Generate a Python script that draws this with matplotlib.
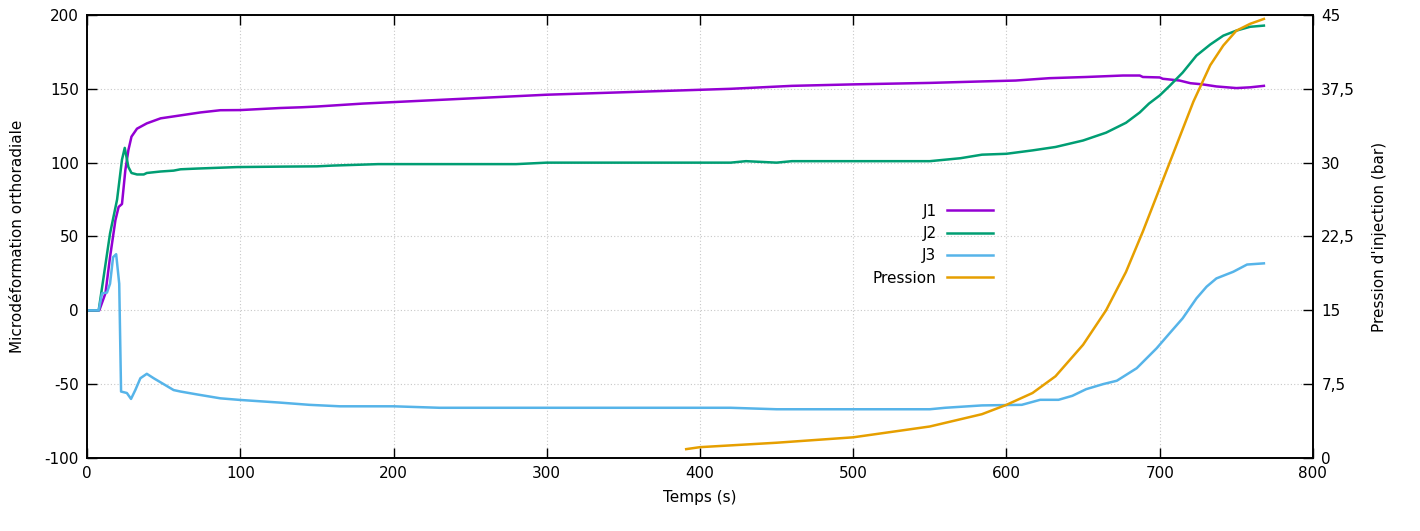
import matplotlib
matplotlib.use('Agg')
import matplotlib.pyplot as plt
from matplotlib.ticker import FixedLocator

# ---- data (time in s) ----
t_j1 = [0, 8, 12, 15, 18.5, 20.6, 22.8, 25, 27, 29, 32.6, 39, 48, 61, 74, 87, 100, 126,
        140, 150, 165, 180, 200, 220, 240, 260, 280, 300, 330, 360, 390, 420, 440, 460,
        500, 550, 584, 606, 628, 652, 676, 687, 689, 700, 702, 713, 720, 728, 737, 750, 759, 768]
j1 = [0, 0, 11.5, 36, 61, 70, 72, 95, 108.6, 117.6, 123, 126.6, 130, 132, 134, 135.5, 135.6, 137,
      137.5, 138, 139, 140, 141, 142, 143, 144, 145, 146, 147, 148, 149, 150, 151, 152,
      153, 154, 155, 155.6, 157.2, 158, 159, 159, 158, 157.7, 156.8, 155.6, 153.8, 153, 151.6, 150.5, 151, 152]

t_j2 = [0, 7.6, 15, 19.6, 22.8, 24.6, 27, 29, 32.6, 37, 39, 48, 56.5, 61, 72, 98, 126, 150,
        160, 190, 280, 300, 420, 430, 450, 460, 550, 560, 570, 584, 600, 617, 632, 650, 665,
        678, 687, 693, 700, 706.5, 715, 724, 733, 741.5, 750, 759, 768]
j2 = [0, 0, 52, 75, 102, 110, 97, 93, 92, 92, 93, 94, 94.6, 95.5, 96, 97, 97.3, 97.5,
      98, 99, 99, 100, 100, 101, 100, 101, 101, 102, 103, 105.4, 106, 108.3, 110.6, 115, 120.3,
      127, 134, 140, 145.5, 152, 161, 172.5, 180, 186, 189.4, 192, 192.8]

t_j3 = [0, 7.6, 9.8, 13, 15, 17, 19, 21, 22.2, 26, 28.7, 31.5, 34.8, 39, 43.5, 56.5, 61, 72,
        87, 100, 126, 145, 165, 200, 230, 420, 450, 550, 560, 584, 610, 622, 634, 643, 652,
        663, 672, 685, 698, 706.5, 715, 724, 730.6, 737, 748, 757, 768]
j3 = [0, 0, 11.5, 12, 18, 36, 38, 18, -55, -56, -60, -54, -46, -43, -46, -54, -55, -57,
      -59.6, -60.7, -62.5, -64, -65, -65, -66, -66, -67, -67, -66, -64.4, -64, -60.6, -60.6, -57.9, -53.4,
      -50, -47.7, -39.2, -25.7, -15.5, -5.4, 8.1, 16, 21.6, 26.1, 31, 31.8]

t_p = [391, 400, 450, 500, 550, 584, 600, 617, 632, 650, 665, 678, 689, 700, 711, 722,
       733, 741.5, 750, 759, 768]
pression = [0.9, 1.1, 1.55, 2.1, 3.2, 4.45, 5.4, 6.6, 8.3, 11.5, 15.0, 18.9, 23.0, 27.4, 31.8, 36.2,
            39.9, 41.9, 43.4, 44.1, 44.6]

y2_ticks = [0, 7.5, 15, 22.5, 30, 37.5, 45]
y2_labels = ['0', '7,5', '15', '22,5', '30', '37,5', '45']

C_J1 = '#9400d3'
C_J2 = '#009e73'
C_J3 = '#56b4e9'
C_P = '#e69f00'

plt.rcParams['font.family'] = ['DejaVu Sans']
plt.rcParams['font.size'] = 11
plt.rcParams['axes.unicode_minus'] = False

fig = plt.figure(figsize=(14.2, 5.31), dpi=100)
ax = fig.add_axes([0.0613, 0.1375, 0.8633, 0.8343])
ax2 = ax.twinx()

lw = 1.8
l1, = ax.plot(t_j1, j1, color=C_J1, lw=lw, label='J1')
l2, = ax.plot(t_j2, j2, color=C_J2, lw=lw, label='J2')
l3, = ax.plot(t_j3, j3, color=C_J3, lw=lw, label='J3')
l4, = ax2.plot(t_p, pression, color=C_P, lw=lw, label='Pression')

ax.set_xlim(0, 800)
ax.set_ylim(-100, 200)
ax2.set_ylim(0, 45)
ax.set_xticks(range(0, 801, 100))
ax.set_yticks(range(-100, 201, 50))
ax2.yaxis.set_major_locator(FixedLocator(y2_ticks))
ax2.set_yticklabels(y2_labels)

ax.grid(True, color='#c8c8c8', linestyle=(0, (1, 2)), linewidth=0.8)
ax.tick_params(axis='x', direction='in', top=True, length=7, width=1, pad=6)
ax.tick_params(axis='y', direction='in', right=False, length=7, width=1, pad=6)
ax2.tick_params(axis='y', direction='in', length=7, width=1, pad=6)
for a in (ax, ax2):
    for s in a.spines.values():
        s.set_linewidth(1.2)

ax.set_xlabel('Temps (s)', labelpad=6)
ax.set_ylabel('Microdéformation orthoradiale', labelpad=14)
ax2.set_ylabel("Pression d'injection (bar)", labelpad=12)

ax2.legend([l1, l2, l3, l4], ['J1', 'J2', 'J3', 'Pression'], loc='upper right',
           bbox_to_anchor=(0.744, 0.588), frameon=False, markerfirst=False,
           handlelength=3.0, handletextpad=0.7, labelspacing=0.48, borderaxespad=0)

fig.savefig('out.png', dpi=100)
